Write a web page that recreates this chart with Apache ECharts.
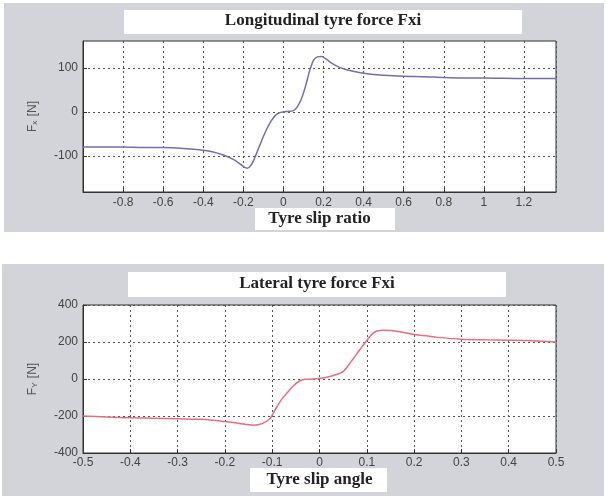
<!DOCTYPE html>
<html>
<head>
<meta charset="utf-8">
<script src="https://cdn.jsdelivr.net/npm/echarts@6/dist/echarts.min.js"></script>
<style>
  html, body { margin: 0; padding: 0; background: #fff; }
  #chart { width: 606px; height: 496px; }
</style>
</head>
<body>
<div id="chart"></div>
<script>
// longitudinal force vs slip ratio  [slip, Fx]
const slipRatio = [-1, -0.9, -0.8, -0.7, -0.6, -0.5, -0.4, -0.35, -0.3, -0.25, -0.22, -0.2, -0.18, -0.165, -0.15, -0.135, -0.12, -0.1, -0.08, -0.06, -0.04, -0.02, 0, 0.02, 0.05, 0.07, 0.09, 0.11, 0.13, 0.15, 0.17, 0.19, 0.21, 0.24, 0.28, 0.32, 0.36, 0.4, 0.45, 0.5, 0.6, 0.7, 0.8, 0.9, 1.0, 1.2, 1.36]
const forceX = [-80, -80, -80, -81, -81, -83, -87, -91, -98, -108, -117, -124, -128, -123, -112, -95, -78, -56, -36, -20, -8, -2, 0, 1, 3, 12, 30, 58, 92, 117, 125, 126, 121, 111, 101, 95, 91, 88, 85, 83, 81, 80, 78, 77, 77, 76, 76]

// lateral force vs slip angle  [angle, Fy]
const slipAngle = [-0.5, -0.45, -0.4, -0.35, -0.3, -0.25, -0.2, -0.17, -0.14, -0.12, -0.105, -0.1, -0.09, -0.08, -0.07, -0.06, -0.05, -0.04, -0.03, 0, 0.02, 0.04, 0.05, 0.06, 0.07, 0.08, 0.09, 0.1, 0.11, 0.12, 0.135, 0.15, 0.17, 0.2, 0.22, 0.25, 0.3, 0.35, 0.4, 0.45, 0.5]
const forceY = [-200, -205, -210, -212, -215, -218, -230, -240, -250, -240, -215, -195, -150, -110, -80, -50, -25, -8, -2, 3, 12, 28, 40, 70, 105, 140, 175, 208, 240, 258, 264, 262, 255, 240, 235, 225, 215, 212, 210, 207, 200]

const fxTicks = [-100, 0, 100]

const zip = (a, b) => a.map((v, i) => [v, b[i]])

const chart = echarts.init(document.getElementById('chart'))

const panelGray = '#d3d3da'
const serif = '"Liberation Serif", "DejaVu Serif", serif'
const sans = '"Liberation Sans", Arial, sans-serif'

const labelStyle = { fontFamily: sans, fontSize: 12, color: '#444' }
const gridLine = { show: true, lineStyle: { type: [2, 3], color: '#555', width: 1 } }
const tickIn = { show: true, inside: true, length: 4, lineStyle: { color: '#333' } }
const axisLine = { show: true, onZero: false, lineStyle: { color: '#333' } }
const xNameStyle = { fontFamily: serif, fontWeight: 'bold', fontSize: 17, color: '#222' }
const yNameStyle = {
    fontFamily: sans, fontSize: 12, color: '#555',
    rich: {
        f: { fontFamily: sans, fontSize: 12, color: '#555' },
        s: { fontFamily: sans, fontSize: 8, color: '#555', padding: [5, 1, 0, 0] }
    }
}

const option = {
    animation: false,
    backgroundColor: '#fff',
    graphic: [
        { type: 'rect', z: -10, shape: { x: 4, y: 3, width: 600, height: 229 }, style: { fill: panelGray } },
        { type: 'rect', z: -10, shape: { x: 2, y: 264, width: 602, height: 232 }, style: { fill: panelGray } },
        { type: 'rect', z: -5, shape: { x: 124, y: 10, width: 398, height: 24 }, style: { fill: '#fff' } },
        { type: 'rect', z: -5, shape: { x: 128, y: 272, width: 378, height: 25 }, style: { fill: '#fff' } },
        { type: 'rect', z: -5, shape: { x: 255, y: 208, width: 140, height: 22 }, style: { fill: '#fff' } },
        { type: 'rect', z: -5, shape: { x: 250, y: 468, width: 137, height: 24 }, style: { fill: '#fff' } }
    ],
    title: [
        { text: 'Longitudinal tyre force Fxi', left: 323, top: 12, textAlign: 'center', padding: 0,
          textStyle: { fontFamily: serif, fontWeight: 'bold', fontSize: 17, color: '#222' } },
        { text: 'Lateral tyre force Fxi', left: 317, top: 275, textAlign: 'center', padding: 0,
          textStyle: { fontFamily: serif, fontWeight: 'bold', fontSize: 17, color: '#222' } }
    ],
    grid: [
        { left: 83, right: 50, top: 41, height: 151, show: true, backgroundColor: '#fff', borderColor: '#333', borderWidth: 1 },
        { left: 83, right: 50, top: 305, height: 148, show: true, backgroundColor: '#fff', borderColor: '#333', borderWidth: 1 }
    ],
    xAxis: [
        {
            gridIndex: 0, type: 'value', min: -1, max: 1.36, interval: 0.2,
            name: 'Tyre slip ratio', nameLocation: 'middle', nameGap: 18, nameTextStyle: xNameStyle,
            axisLine: axisLine, axisTick: tickIn, splitLine: gridLine,
            axisLabel: Object.assign({ margin: 5, showMinLabel: false, showMaxLabel: false,
                formatter: v => String(Math.round(v * 10) / 10) }, labelStyle)
        },
        {
            gridIndex: 1, type: 'value', min: -0.5, max: 0.5, interval: 0.1,
            name: 'Tyre slip angle', nameLocation: 'middle', nameGap: 18, nameTextStyle: xNameStyle,
            axisLine: axisLine, axisTick: tickIn, splitLine: gridLine,
            axisLabel: Object.assign({ margin: 4, formatter: v => String(Math.round(v * 10) / 10) }, labelStyle)
        }
    ],
    yAxis: [
        {
            gridIndex: 0, type: 'value', min: -182, max: 161,
            name: '{f|F}{s|x}{f| [N]}', nameLocation: 'middle', nameGap: 44, nameTextStyle: yNameStyle,
            axisLine: axisLine, splitLine: gridLine,
            axisTick: Object.assign({ customValues: fxTicks }, tickIn),
            axisLabel: Object.assign({ margin: 5, customValues: fxTicks }, labelStyle)
        },
        {
            gridIndex: 1, type: 'value', min: -400, max: 400, interval: 200,
            name: '{f|F}{s|Y}{f| [N]}', nameLocation: 'middle', nameGap: 44, nameTextStyle: yNameStyle,
            axisLine: axisLine, axisTick: tickIn, splitLine: gridLine,
            axisLabel: Object.assign({ margin: 5 }, labelStyle)
        }
    ],
    series: [
        {
            type: 'line', xAxisIndex: 0, yAxisIndex: 0, data: zip(slipRatio, forceX),
            showSymbol: false, smooth: 0.3, lineStyle: { color: '#6f70ad', width: 1.5 }
        },
        {
            type: 'line', xAxisIndex: 1, yAxisIndex: 1, data: zip(slipAngle, forceY),
            showSymbol: false, smooth: 0.3, lineStyle: { color: '#e3707c', width: 1.5 }
        }
    ]
}

chart.setOption(option)
</script>
</body>
</html>
